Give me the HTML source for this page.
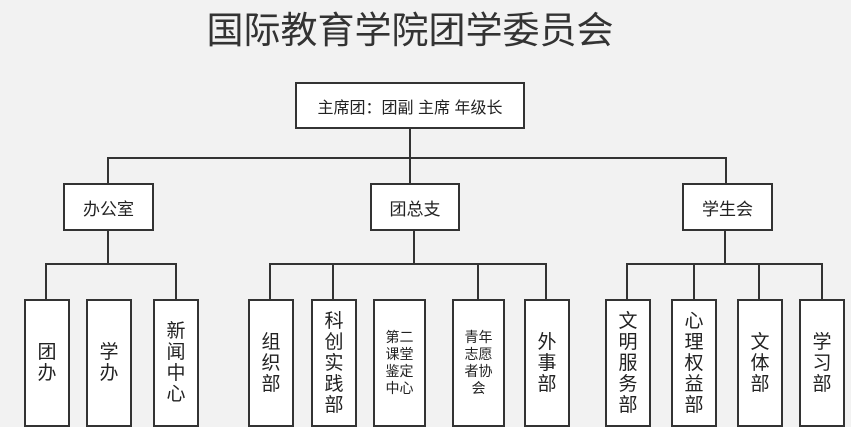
<!DOCTYPE html>
<html><head><meta charset="utf-8"><style>
html,body{margin:0;padding:0}
body{width:851px;height:420px;overflow:hidden;background:#f2f2f2;position:relative;font-family:"Liberation Sans","Noto Sans CJK SC",sans-serif;color:#222}
.b{position:absolute;box-sizing:border-box;border:2px solid #333;background:#fff;display:flex;align-items:center;justify-content:center;text-align:center}
.l{position:absolute;background:#333}
.leaf{top:299px;height:128px;font-size:19px;line-height:21px}
.sm{font-size:14px;line-height:17px}
</style></head><body>
<div style="position:absolute;left:200px;top:8px;width:420px;text-align:center;font-size:37px;line-height:46px;color:#333">国际教育学院团学委员会</div>
<div class="b" style="left:295px;top:82px;width:230px;height:47px;font-size:16px">主席团：团副 主席 年级长</div>
<div class="l" style="left:409px;top:129px;width:2px;height:29px"></div>
<div class="l" style="left:107px;top:157px;width:620px;height:2px"></div>
<div class="l" style="left:107px;top:157px;width:2px;height:26px"></div>
<div class="l" style="left:409px;top:157px;width:2px;height:26px"></div>
<div class="l" style="left:725px;top:157px;width:2px;height:26px"></div>
<div class="b" style="left:63px;top:183px;width:91px;height:48px;font-size:17px">办公室</div>
<div class="b" style="left:370px;top:183px;width:90px;height:48px;font-size:17px">团总支</div>
<div class="b" style="left:682px;top:183px;width:91px;height:48px;font-size:17px">学生会</div>
<div class="l" style="left:107px;top:231px;width:2px;height:33px"></div>
<div class="l" style="left:413px;top:231px;width:2px;height:33px"></div>
<div class="l" style="left:724px;top:231px;width:2px;height:33px"></div>
<div class="l" style="left:45px;top:263px;width:132px;height:2px"></div>
<div class="l" style="left:269px;top:263px;width:278px;height:2px"></div>
<div class="l" style="left:626px;top:263px;width:197px;height:2px"></div>
<div class="l" style="left:45px;top:263px;width:2px;height:36px"></div>
<div class="l" style="left:175px;top:263px;width:2px;height:36px"></div>
<div class="l" style="left:269px;top:263px;width:2px;height:36px"></div>
<div class="l" style="left:332px;top:263px;width:2px;height:36px"></div>
<div class="l" style="left:477px;top:263px;width:2px;height:36px"></div>
<div class="l" style="left:545px;top:263px;width:2px;height:36px"></div>
<div class="l" style="left:626px;top:263px;width:2px;height:36px"></div>
<div class="l" style="left:693px;top:263px;width:2px;height:36px"></div>
<div class="l" style="left:758px;top:263px;width:2px;height:36px"></div>
<div class="l" style="left:821px;top:263px;width:2px;height:36px"></div>
<div class="b leaf" style="left:24px;width:46px">团<br>办</div>
<div class="b leaf" style="left:86px;width:46px">学<br>办</div>
<div class="b leaf" style="left:153px;width:46px">新<br>闻<br>中<br>心</div>
<div class="b leaf" style="left:248px;width:46px">组<br>织<br>部</div>
<div class="b leaf" style="left:311px;width:46px">科<br>创<br>实<br>践<br>部</div>
<div class="b leaf sm" style="left:373px;width:53px">第二<br>课堂<br>鉴定<br>中心</div>
<div class="b leaf sm" style="left:452px;width:53px">青年<br>志愿<br>者协<br>会</div>
<div class="b leaf" style="left:524px;width:46px">外<br>事<br>部</div>
<div class="b leaf" style="left:605px;width:46px">文<br>明<br>服<br>务<br>部</div>
<div class="b leaf" style="left:671px;width:46px">心<br>理<br>权<br>益<br>部</div>
<div class="b leaf" style="left:737px;width:46px">文<br>体<br>部</div>
<div class="b leaf" style="left:799px;width:46px">学<br>习<br>部</div>
</body></html>
